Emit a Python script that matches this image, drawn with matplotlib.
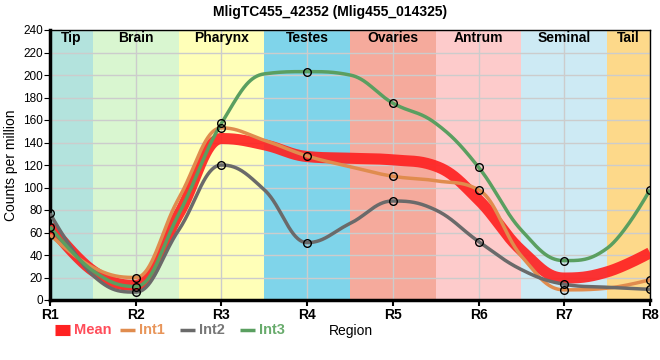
import numpy as np
import matplotlib
matplotlib.use("Agg")
import matplotlib.pyplot as plt
from matplotlib.lines import Line2D

plt.rcParams['font.family'] = ['Liberation Sans', 'DejaVu Sans']

regions = ["R1", "R2", "R3", "R4", "R5", "R6", "R7", "R8"]
# values at the region ticks (shown with markers)
int1 = [58, 20, 153, 128, 110, 98, 9, 18]
int2 = [77, 7, 120, 51, 88, 52, 14, 9.5]
int3 = [65, 12, 157, 203, 175, 118, 35, 98]
mean = [66, 13, 143.5, 127.5, 124.5, 89, 19.5, 42]
# values read at the band boundaries (R1.5 ... R7.5), no markers
int1_mid = [29, 90, 142, 118.5, 106, 39, 10.5]
int2_mid = [22, 62, 98, 68, 80, 27, 11.3]
int3_mid = [26, 76, 201, 200, 157, 62, 46]
mean_mid = [26, 76, 138, 126, 119, 44, 25]

band_names = ["Tip", "Brain", "Pharynx", "Testes", "Ovaries", "Antrum", "Seminal", "Tail"]
band_colors = ["#b3e3dd", "#d9f6d0", "#ffffb8", "#7fd4ea", "#f5aa9c", "#fdcbcb", "#cdeaf4", "#fdd98a"]


def merge(main, mid):
    ys = []
    for i, v in enumerate(main):
        ys.append(v)
        if i < len(mid):
            ys.append(mid[i])
    xs = np.arange(len(ys)) * 0.5
    return xs, np.array(ys, float)


def spline(xs, ys, n=60):
    """Highcharts-style spline through the points (cubic Bezier segments)."""
    N = len(xs)
    sm, den = 1.5, 2.5
    lc = [(xs[i], ys[i]) for i in range(N)]
    rc = [(xs[i], ys[i]) for i in range(N)]
    for i in range(1, N - 1):
        lx, ly, px, py, nx, ny = xs[i - 1], ys[i - 1], xs[i], ys[i], xs[i + 1], ys[i + 1]
        lcx = (sm * px + lx) / den
        lcy = (sm * py + ly) / den
        rcx = (sm * px + nx) / den
        rcy = (sm * py + ny) / den
        corr = (rcy - lcy) * (rcx - px) / (rcx - lcx) + py - rcy
        lcy += corr
        rcy += corr
        if lcy > ly and lcy > py:
            lcy = max(ly, py); rcy = 2 * py - lcy
        elif lcy < ly and lcy < py:
            lcy = min(ly, py); rcy = 2 * py - lcy
        if rcy > ny and rcy > py:
            rcy = max(ny, py); lcy = 2 * py - rcy
        elif rcy < ny and rcy < py:
            rcy = min(ny, py); lcy = 2 * py - rcy
        lc[i] = (lcx, lcy)
        rc[i] = (rcx, rcy)
    X, Y = [], []
    t = np.linspace(0, 1, n)
    for i in range(N - 1):
        p0 = (xs[i], ys[i]); p1 = rc[i]; p2 = lc[i + 1]; p3 = (xs[i + 1], ys[i + 1])
        b0 = (1 - t) ** 3; b1 = 3 * (1 - t) ** 2 * t; b2 = 3 * (1 - t) * t ** 2; b3 = t ** 3
        X.append(b0 * p0[0] + b1 * p1[0] + b2 * p2[0] + b3 * p3[0])
        Y.append(b0 * p0[1] + b1 * p1[1] + b2 * p2[1] + b3 * p3[1])
    return np.concatenate(X), np.concatenate(Y)


W, H = 660, 360
fig = plt.figure(figsize=(6.6, 3.6), dpi=100)
ax = fig.add_axes([50 / W, 60 / H, 600 / W, 270 / H])
x = np.arange(len(regions))

for i, (nm, col) in enumerate(zip(band_names, band_colors)):
    lo = max(i - 0.5, 0)
    hi = min(i + 0.5, len(regions) - 1)
    ax.axvspan(lo, hi, color=col, zorder=0, lw=0)
    ax.text((lo + hi) / 2, 233, nm, ha='center', va='center', fontsize=10,
            fontweight='bold', zorder=5)

ax.grid(True, color='#cccccc', lw=1, zorder=1)
ax.set_axisbelow(True)

series = [("Mean", mean, mean_mid, "#ff2222", 8, 0.92),
          ("Int1", int1, int1_mid, "#e08c4e", 2.5, 1),
          ("Int2", int2, int2_mid, "#6a6a6a", 2.5, 1),
          ("Int3", int3, int3_mid, "#5a9f60", 2.5, 1)]
for nm, ys, mid, col, lw, al in series:
    xs, yy = merge(ys, mid)
    X, Y = spline(xs, yy)
    ax.plot(X, Y, color=col, lw=lw, alpha=al, solid_capstyle='butt', zorder=3)
for ys in (int1, int2, int3):
    ax.plot(x, ys, 'o', ms=5.5, mfc='none', mec='black', mew=1, zorder=6)

ax.set_xlim(0, len(regions) - 1)
ax.set_ylim(0, 240)
ax.set_yticks(np.arange(0, 241, 20))
ax.set_xticks(x)
ax.set_xticklabels(regions, fontsize=10, fontweight='bold')
ax.tick_params(axis='y', labelsize=8.5, length=4, pad=1)
ax.tick_params(axis='x', length=4, width=1.5, pad=2)
for sp in ['left', 'bottom']:
    ax.spines[sp].set_linewidth(2.5)
for sp in ['top', 'right']:
    ax.spines[sp].set_linewidth(1)
ax.set_ylabel("Counts per million", fontsize=10, labelpad=4)

fig.text(0.5, 0.985, "MligTC455_42352 (Mlig455_014325)", ha='center', va='top',
         fontsize=10, fontweight='bold')
fig.text(351 / W, 1 - 331 / H, "Region", ha='center', va='center', fontsize=10)

# legend (manual placement, pixel positions)
leg_items = [("Mean", "#ff2222", "#ff4d5a", 8, 55, 74),
             ("Int1", "#e08c4e", "#e8955a", 2.5, 120, 139),
             ("Int2", "#6a6a6a", "#777777", 2.5, 180, 199),
             ("Int3", "#5a9f60", "#68ab6c", 2.5, 240, 259)]
ly = 1 - 330 / H
for nm, lc_, tc, lw, hx, tx in leg_items:
    fig.add_artist(Line2D([hx / W, (hx + 15) / W], [ly, ly], transform=fig.transFigure,
                          color=lc_, lw=lw, solid_capstyle='butt'))
    fig.text(tx / W, ly, nm, color=tc, fontsize=10.5, fontweight='bold', va='center', ha='left')

fig.savefig("out.png", dpi=100)
